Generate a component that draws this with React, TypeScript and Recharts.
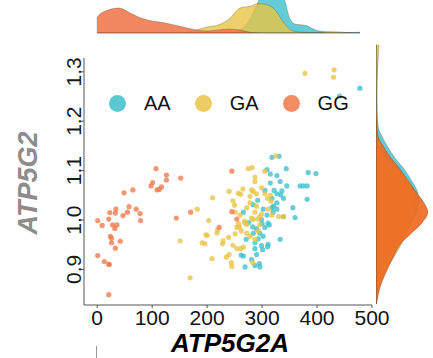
import React from "react";
import {
  Area,
  AreaChart,
  Label,
  Legend,
  ReferenceLine,
  Scatter,
  ScatterChart,
  XAxis,
  YAxis,
} from "recharts";

const FONT = "'Liberation Sans', Arial, Helvetica, sans-serif";

const genotypes = ["AA", "GA", "GG"];
const colors: Record<string, string> = {
  AA: "#3dbfca",
  GA: "#e9c444",
  GG: "#f0784a",
};

// scatter points [ATP5G2A, ATP5G2]
const aaPoints = [
  [318, 1.127], [331, 1.129], [344, 1.104], [384, 1.096], [398, 1.094], [309, 1.102],
  [315, 1.093], [327, 1.09], [333, 1.078], [345, 1.069], [336, 1.059], [327, 1.053],
  [318, 1.044], [339, 1.044], [327, 1.035], [318, 1.025], [302, 1.022], [309, 1.01],
  [299, 1.001], [321, 1.028], [327, 1.022], [311, 0.994], [305, 0.985], [290, 0.982],
  [284, 0.973], [296, 0.973], [302, 0.967], [287, 0.954], [299, 0.948], [311, 0.951],
  [287, 0.942], [266, 0.927], [281, 0.92], [296, 0.905], [287, 0.908], [269, 0.905],
  [339, 1.007], [333, 0.961], [356, 1.025], [360, 1.005], [369, 1.069], [375, 1.069],
  [382, 1.069], [382, 1.042], [266, 1.016], [284, 1.031], [283, 0.986], [271, 0.961],
  [262, 0.929], [478, 1.267], [441, 1.251], [313, 0.99], [320, 1.016], [334, 1.051],
  [293, 0.962], [310, 0.946], [301, 0.94], [295, 0.912], [305, 1.06], [292, 1.04],
  [276, 0.995], [315, 1.075], [322, 1.06], [300, 0.993], [290, 0.93],
];

const gaPoints = [
  [151, 0.958], [275, 1.104], [282, 1.106], [325, 1.13], [240, 1.058], [257, 1.054],
  [261, 1.052], [210, 1.045], [247, 1.039], [281, 1.061], [278, 1.048], [182, 1.022],
  [251, 1.016], [260, 1.01], [203, 0.999], [257, 0.993], [272, 0.991], [254, 0.985],
  [218, 0.974], [200, 0.969], [191, 0.954], [196, 0.952], [228, 0.952], [239, 0.965],
  [247, 0.949], [254, 0.942], [261, 0.942], [240, 0.93], [209, 0.922], [244, 0.914],
  [283, 0.914], [169, 0.883], [272, 0.973], [268, 0.998], [305, 1.099], [287, 1.078],
  [299, 1.065], [315, 1.05], [316, 1.038], [290, 1.053], [287, 1.016], [296, 1.007],
  [330, 1.007], [339, 1.007], [284, 1.001], [296, 0.991], [287, 0.961], [310, 1.044],
  [287, 1.087], [198, 0.97], [219, 0.98], [229, 0.958], [266, 0.945], [235, 0.925],
  [245, 0.906], [265, 1.063], [250, 1.03], [284, 1.058], [305, 1.053], [311, 1.022],
  [318, 1.01], [299, 1.012], [281, 1.004], [269, 0.994], [259, 0.986], [290, 1.028],
  [293, 0.978], [262, 0.978], [251, 0.972], [278, 0.967], [378, 1.297], [431, 1.304],
  [430, 1.289], [272, 1.025], [278, 1.035], [292, 1.002],
];

const ggPoints = [
  [107, 1.104], [126, 1.091], [126, 1.081], [152, 1.085], [101, 1.076], [98, 1.069],
  [117, 1.067], [113, 1.062], [109, 1.061], [49, 1.055], [65, 1.061], [58, 1.027],
  [71, 1.022], [34, 1.022], [23, 1.015], [33, 1.014], [55, 1.016], [47, 1.009],
  [78, 1.013], [79, 0.999], [1, 0.999], [21, 1.002], [9, 0.989], [28, 0.99],
  [36, 0.99], [32, 0.983], [24, 0.967], [26, 0.963], [26, 0.954], [42, 0.957],
  [33, 0.943], [1, 0.928], [13, 0.916], [21, 0.911], [22, 0.91], [21, 0.849],
  [144, 1.004], [245, 1.099], [170, 1.016], [222, 0.985], [245, 1.017], [254, 1.002],
];

const xTicks = [0, 100, 200, 300, 400, 500];
const yTicks = [0.9, 1.0, 1.1, 1.2, 1.3];

// top marginal density (heights)
const topX = [0, 0, 20, 40, 60, 80, 100, 120, 140, 160, 180, 200, 220, 240, 260, 280, 290, 300, 320, 340, 350, 360, 380, 400, 420, 440, 460, 478];
const topAA = [0, 0, 0, 0, 0, 0, 0, 0, 0, 0, 0, 0, 0, 0.5, 3, 16, 28, 38, 42, 34, 15, 9, 7.5, 2.5, 1, 0.6, 0.5, 0.8];
const topGA = [0, 0, 0, 0, 0, 0, 0, 0, 0, 0.5, 3, 6, 8, 14, 25, 27, 29, 29, 25, 10, 4, 1.5, 0.5, 0.3, 1.2, 1, 0.2, 0];
const topGG = [0, 16, 23, 25, 20, 15, 12, 10.5, 8, 5.5, 3, 2, 3, 4, 3, 0.5, 0.2, 0, 0, 0, 0, 0, 0, 0, 0, 0, 0, 0];

// right marginal density
const sideY = [1.31, 1.28, 1.24, 1.2, 1.16, 1.14, 1.12, 1.1, 1.08, 1.06, 1.04, 1.02, 1.0, 0.98, 0.96, 0.94, 0.92, 0.9, 0.88, 0.86, 0.84, 0.83];
const sideAA = [1, 1.5, 1, 1, 2, 6, 12, 19, 28, 35, 41, 43, 41, 35, 27, 19, 12, 7, 3, 1, 0.5, 0.2];
const sideGA = [3, 2, 1, 0.8, 1, 2, 5, 10, 22, 32, 38, 40, 39, 35, 30, 25, 19, 12, 6, 2.5, 1, 0.5];
const sideGG = [0, 0, 0, 0, 0.5, 2, 8, 15, 24, 31, 39, 47, 52, 46, 35, 24, 18, 13, 8, 4, 1.5, 0.5];

const toRows = (pts: number[][]) => pts.map(([x, y]) => ({ x, y }));
const scatterData: Record<string, { x: number; y: number }[]> = {
  AA: toRows(aaPoints),
  GA: toRows(gaPoints),
  GG: toRows(ggPoints),
};
const topData = topX.map((x, i) => ({ x, AA: topAA[i], GA: topGA[i], GG: topGG[i] }));
const sideData = sideY.map((y, i) => ({ y, AA: sideAA[i], GA: sideGA[i], GG: sideGG[i] }));

const X_DOMAIN = [-24, 500];
const Y_DOMAIN = [0.828, 1.328];

function Dot(props: any) {
  const { cx, cy, fill } = props;
  if (cx == null || cy == null) return null;
  return <circle cx={cx} cy={cy} r={2.6} fill={fill} fillOpacity={0.78} />;
}

function YTick({ x, y, payload }: any) {
  return (
    <text
      x={x}
      y={y}
      transform={`rotate(-90, ${x}, ${y})`}
      textAnchor="middle"
      fontSize={21}
      fontFamily={FONT}
      fill="#1a1a1a"
    >
      {Number(payload.value).toFixed(1)}
    </text>
  );
}

function LegendContent({ payload }: any) {
  const items = payload && payload.length ? payload : genotypes.map((g) => ({ value: g, color: colors[g] }));
  return (
    <div style={{ display: "flex", alignItems: "center", fontFamily: FONT, fontSize: 20, color: "#111" }}>
      {items.map((p: any) => (
        <div key={p.value} style={{ display: "flex", alignItems: "center", marginRight: 24 }}>
          <span
            style={{
              display: "inline-block",
              width: 17,
              height: 17,
              borderRadius: "50%",
              background: p.color,
              opacity: 0.85,
              marginRight: 18,
            }}
          />
          <span>{p.value}</span>
        </div>
      ))}
    </div>
  );
}

const sideOpacity: Record<string, number> = { AA: 0.8, GA: 0.8, GG: 0.92 };

export default function App() {
  return (
    <div style={{ position: "absolute", left: 0, top: 0, width: 433, height: 358, background: "#fff" }}>
      <div style={{ position: "absolute", left: 0, top: 0 }}>
        <ScatterChart width={433} height={358} margin={{ top: 35, right: 61, bottom: 23, left: 0 }}>
          <XAxis
            type="number"
            dataKey="x"
            domain={X_DOMAIN}
            ticks={xTicks}
            allowDataOverflow
            height={30}
            tickSize={3}
            tickMargin={2}
            stroke="#555"
            tick={{ fontSize: 21, fill: "#111", fontFamily: FONT }}
          >
            <Label
              content={({ viewBox }: any) => (
                <text
                  x={viewBox.x + viewBox.width / 2 + 2}
                  y={352}
                  textAnchor="middle"
                  fontSize={26}
                  fontWeight="bold"
                  fontStyle="italic"
                  fontFamily={FONT}
                  fill="#000"
                >
                  ATP5G2A
                </text>
              )}
            />
          </XAxis>
          <YAxis
            type="number"
            dataKey="y"
            domain={Y_DOMAIN}
            ticks={yTicks}
            allowDataOverflow
            width={84}
            tickSize={3}
            tickMargin={0}
            stroke="#555"
            tick={<YTick />}
          >
            <Label
              content={({ viewBox }: any) => (
                <text
                  transform={`translate(${viewBox.x + 37}, ${viewBox.y + 125}) rotate(-90)`}
                  textAnchor="middle"
                  fontSize={27}
                  fontWeight="bold"
                  fontStyle="italic"
                  fontFamily={FONT}
                  fill="#8c8c8c"
                >
                  ATP5G2
                </text>
              )}
            />
          </YAxis>
          <Legend
            verticalAlign="top"
            align="left"
            content={<LegendContent />}
            wrapperStyle={{ top: 92, left: 109, width: "auto" }}
          />
          {genotypes.map((g) => (
            <Scatter
              key={g}
              name={g}
              data={scatterData[g]}
              fill={colors[g]}
              shape={<Dot />}
              isAnimationActive={false}
            />
          ))}
        </ScatterChart>
      </div>

      <div style={{ position: "absolute", left: 84, top: 0 }}>
        <AreaChart width={288} height={34} data={topData} margin={{ top: 0, right: 0, bottom: 1, left: 0 }}>
          <XAxis type="number" dataKey="x" domain={X_DOMAIN} allowDataOverflow hide />
          <YAxis type="number" domain={[0, 33]} allowDataOverflow hide />
          {genotypes.map((g) => (
            <Area
              key={g}
              type="monotone"
              dataKey={g}
              fill={colors[g]}
              fillOpacity={g === "GG" ? 0.88 : 0.8}
              stroke="#333"
              strokeOpacity={0.45}
              strokeWidth={0.6}
              isAnimationActive={false}
            />
          ))}
          <ReferenceLine segment={[{ x: 0, y: 0 }, { x: 478, y: 0 }]} stroke="#333" strokeOpacity={0.6} />
        </AreaChart>
      </div>

      <div style={{ position: "absolute", left: 376, top: 0 }}>
        <AreaChart
          width={57}
          height={358}
          layout="vertical"
          data={sideData}
          margin={{ top: 35, right: 0, bottom: 53, left: 0 }}
        >
          <XAxis type="number" domain={[0, 57]} allowDataOverflow hide />
          <YAxis type="number" dataKey="y" domain={Y_DOMAIN} reversed allowDataOverflow hide />
          {genotypes.map((g) => (
            <Area
              key={g}
              type="monotone"
              dataKey={g}
              fill={g === "GG" ? "#ee6a22" : colors[g]}
              fillOpacity={sideOpacity[g]}
              stroke="#333"
              strokeOpacity={0.45}
              strokeWidth={0.6}
              isAnimationActive={false}
            />
          ))}
          <ReferenceLine segment={[{ x: 0, y: 0.83 }, { x: 0, y: 1.31 }]} stroke="#333" strokeOpacity={0.6} />
        </AreaChart>
      </div>

      <div style={{ position: "absolute", left: 96, top: 346, width: 1, height: 12, background: "#999" }} />
    </div>
  );
}
